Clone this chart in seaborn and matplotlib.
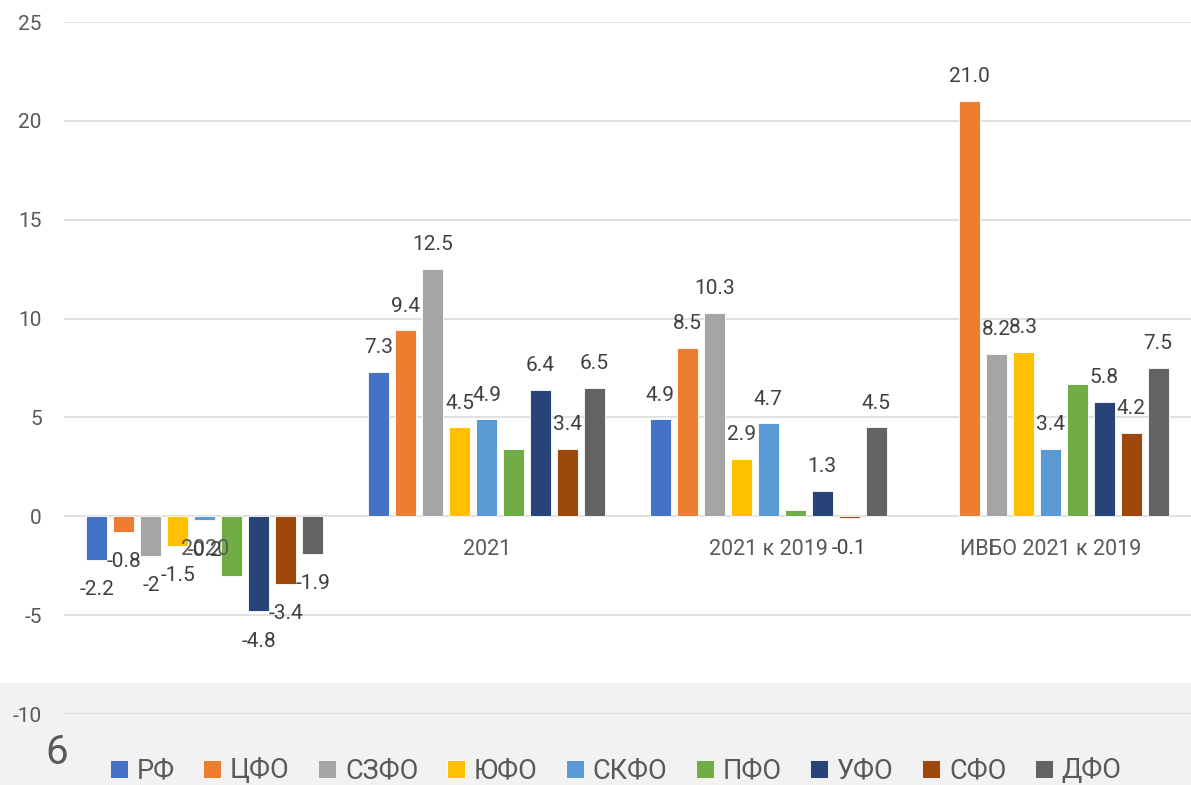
import numpy as np
import pandas as pd
import matplotlib
matplotlib.use("Agg")
import matplotlib.pyplot as plt
import seaborn as sns
from matplotlib.patches import Rectangle

# ---- data ----
periods = ["2020", "2021", "2021 к 2019", "ИВБО 2021 к 2019"]
regions = ["РФ", "ЦФО", "СЗФО", "ЮФО", "СКФО", "ПФО", "УФО", "СФО", "ДФО"]
rf = [-2.2, 7.3, 4.9, np.nan]
cfo = [-0.8, 9.4, 8.5, 21.0]
szfo = [-2.0, 12.5, 10.3, 8.2]
yufo = [-1.5, 4.5, 2.9, 8.3]
skfo = [-0.2, 4.9, 4.7, 3.4]
pfo = [-3.0, 3.4, 0.3, 6.7]
ufo = [-4.8, 6.4, 1.3, 5.8]
sfo = [-3.4, 3.4, -0.1, 4.2]
dfo = [-1.9, 6.5, 4.5, 7.5]
series = [rf, cfo, szfo, yufo, skfo, pfo, ufo, sfo, dfo]
colors = ["#4472C4", "#ED7D31", "#A5A5A5", "#FFC000", "#5B9BD5",
          "#70AD47", "#264478", "#9E480E", "#636363"]
unlabeled = ["ПФО"]
label_overrides = {("СЗФО", "2020"): "-2"}

rows = []
for reg, vals in zip(regions, series):
    for p, v in zip(periods, vals):
        rows.append({"period": p, "region": reg, "value": v})
df = pd.DataFrame(rows)

# ---- style ----
sns.set_style("white")
plt.rcParams["font.family"] = ["Roboto", "DejaVu Sans"]
plt.rcParams["axes.unicode_minus"] = False

fig = plt.figure(figsize=(11.91, 7.85), dpi=100, facecolor="white")
fig.patches.append(Rectangle((0, 0), 1, 0.13, transform=fig.transFigure,
                             facecolor="#F2F2F2", edgecolor="none", zorder=-5))
ax = fig.add_axes([64 / 1191, 71 / 785, 1 - 64 / 1191, 692 / 785])
ax.set_facecolor("none")

sns.barplot(data=df, x="period", y="value", hue="region", order=periods,
            hue_order=regions, palette=colors, width=0.862, gap=0.22,
            saturation=1, errorbar=None, legend=False, ax=ax,
            edgecolor="white", linewidth=0.6, zorder=3)

ax.set_ylim(-10, 25)
ax.set_yticks(range(-10, 30, 5))
ax.set_xlim(-0.5, 3.5)
ax.yaxis.grid(True, color="#D9D9D9", lw=1.1, zorder=0)
ax.set_axisbelow(True)
ax.set_xticks([])
ax.set_xlabel("")
ax.set_ylabel("")
for s in ax.spines.values():
    s.set_visible(False)
ax.tick_params(axis="y", length=0, labelsize=15, labelcolor="#595959", pad=16)

# category labels next to zero line
for i, p in enumerate(periods):
    ax.annotate(p, (i, 0), xytext=(0, -24), textcoords="offset points",
                ha="center", va="center", fontsize=15.5, color="#595959", zorder=5)

# data labels
for reg, vals, cont in zip(regions, series, ax.containers):
    if reg in unlabeled:
        continue
    for patch in cont.patches:
        xc = patch.get_x() + patch.get_width() / 2
        idx = int(round(xc))
        v = vals[idx]
        if v is None or np.isnan(v):
            continue
        txt = label_overrides.get((reg, periods[idx]), f"{v:.1f}")
        off = 17.5 if v >= 0 else -21.5
        ax.annotate(txt, (xc, v), xytext=(0, off), textcoords="offset points",
                    ha="center", va="center", fontsize=15, color="#404040", zorder=6)

fig.text(57 / 1191, (785 - 753) / 785, "6", fontsize=29, color="#595959",
         ha="center", va="center")

fig.legend(ax.containers, regions, loc="center", bbox_to_anchor=(0.517, 0.018),
           ncol=9, frameon=False, fontsize=19.5, handlelength=0.66, handleheight=0.66,
           handletextpad=0.33, columnspacing=1.05, labelcolor="#595959")

fig.savefig("out.png", dpi=100)
